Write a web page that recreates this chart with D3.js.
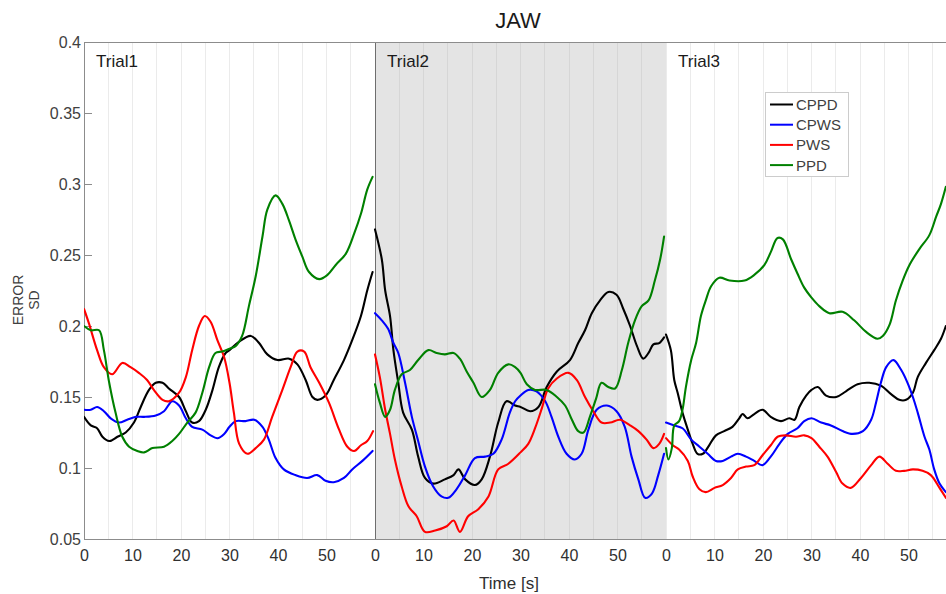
<!DOCTYPE html>
<html>
<head>
<meta charset="utf-8">
<script src="https://cdn.jsdelivr.net/npm/d3@7/dist/d3.min.js"></script>
<style>
  html, body { margin: 0; padding: 0; background: #fff; }
  svg { display: block; font-family: "Liberation Sans", Arial, sans-serif; }
</style>
</head>
<body>
<svg id="chart" width="946" height="594"></svg>
<script>
// ---- data: [time within trial (s), error SD] ----
const trials = ["Trial1", "Trial2", "Trial3"];
const trialLength = 60;
const timeTicks = [0, 10, 20, 30, 40, 50];
const yTicks = [0.05, 0.1, 0.15, 0.2, 0.25, 0.3, 0.35, 0.4];
const seriesNames = ["CPPD", "CPWS", "PWS", "PPD"];
const seriesColors = ["#000000", "#0000ff", "#ff0000", "#008000"];

const cppdTrial1 = [[0,0.136],[1.4,0.130],[2.7,0.128],[3.8,0.122],[5.2,0.119],[6.9,0.122],[8.6,0.125],[10.3,0.132],[11.7,0.143],[13.4,0.155],[14.8,0.160],[16.2,0.160],[17.5,0.156],[19.6,0.150],[21,0.140],[22.3,0.132],[23.7,0.133],[25.1,0.141],[26.5,0.155],[27.8,0.171],[29.2,0.181],[30,0.183],[32,0.189],[34.4,0.193],[36.1,0.188],[37.8,0.180],[39.9,0.176],[42.3,0.177],[44,0.173],[45.7,0.162],[47.1,0.150],[48.1,0.148],[49.8,0.151],[51.5,0.162],[53.6,0.176],[55.3,0.190],[57.1,0.207],[58.4,0.225],[59.5,0.238]];
const cpwsTrial1 = [[0,0.141],[1.4,0.141],[2.7,0.143],[4.1,0.140],[5.5,0.135],[7.2,0.132],[8.9,0.134],[10.7,0.136],[12.4,0.136],[14.8,0.137],[16.5,0.140],[18.2,0.147],[19.6,0.144],[21,0.135],[22.3,0.129],[24.4,0.127],[26.1,0.123],[27.5,0.121],[28.9,0.124],[30,0.129],[31.3,0.133],[33.3,0.133],[35.1,0.134],[36.8,0.129],[38.1,0.120],[39.5,0.107],[41.2,0.099],[43.6,0.095],[46,0.093],[48.1,0.095],[49.8,0.091],[51.5,0.090],[53.6,0.093],[55.3,0.099],[57.4,0.105],[59.5,0.112]];
const pwsTrial1 = [[0,0.212],[1,0.202],[2.7,0.183],[4.1,0.171],[5.8,0.166],[7.9,0.174],[9.6,0.171],[11.3,0.167],[13,0.162],[14.4,0.155],[16.2,0.148],[17.5,0.147],[19.6,0.153],[21,0.164],[22.3,0.183],[23.7,0.200],[24.9,0.207],[26.1,0.203],[27.5,0.190],[28.9,0.178],[30,0.160],[30.9,0.139],[32,0.117],[33.7,0.110],[35.4,0.114],[37.1,0.120],[38.8,0.136],[40.9,0.155],[42.6,0.171],[44,0.182],[45.4,0.182],[46.7,0.171],[48.5,0.160],[50.5,0.146],[52.6,0.127],[54.3,0.115],[55.7,0.112],[57.1,0.116],[58.4,0.119],[59.6,0.126]];
const ppdTrial1 = [[0,0.200],[1.4,0.197],[3.1,0.197],[4.1,0.183],[5.2,0.160],[6.5,0.139],[7.9,0.122],[9.3,0.115],[11,0.112],[12.4,0.111],[14.1,0.114],[16.5,0.115],[18.2,0.119],[19.6,0.124],[21.3,0.132],[23,0.139],[24.4,0.153],[25.8,0.171],[27.1,0.181],[28.5,0.182],[30,0.184],[31.3,0.186],[32.6,0.193],[34,0.214],[35.4,0.235],[36.8,0.263],[37.8,0.282],[39.5,0.292],[40.9,0.286],[42.3,0.274],[43.6,0.261],[45,0.249],[46.4,0.238],[48.5,0.233],[50.2,0.236],[51.9,0.243],[54,0.251],[55.7,0.265],[57.1,0.279],[58.4,0.296],[59.5,0.305]];

const cppdTrial2 = [[0,0.268],[1.4,0.247],[2.1,0.225],[3.1,0.207],[3.8,0.183],[4.8,0.160],[5.8,0.139],[7.6,0.127],[8.9,0.108],[10.3,0.093],[12,0.089],[14.4,0.092],[16.2,0.095],[17.2,0.099],[18.6,0.092],[20.6,0.088],[22,0.092],[23.7,0.108],[25.4,0.132],[27.1,0.147],[28.9,0.144],[30,0.143],[32,0.140],[33.7,0.143],[35.4,0.157],[37.5,0.168],[40.2,0.176],[41.9,0.188],[43.3,0.197],[44.7,0.209],[46.4,0.218],[48.1,0.224],[49.8,0.222],[51.2,0.212],[52.6,0.200],[54,0.186],[55.3,0.177],[56.4,0.181],[57.4,0.187],[58.6,0.188],[59.6,0.192]];
const cpwsTrial2 = [[0,0.209],[1.4,0.204],[2.7,0.198],[3.8,0.188],[4.8,0.181],[6.2,0.160],[7.6,0.136],[8.9,0.119],[10.3,0.101],[12,0.087],[13.7,0.080],[15.1,0.079],[16.8,0.085],[18.6,0.095],[20.6,0.107],[22.7,0.108],[24.4,0.110],[26.1,0.120],[27.8,0.139],[28.9,0.147],[30,0.151],[31.6,0.155],[33.3,0.154],[35.1,0.147],[36.4,0.136],[37.8,0.122],[39.5,0.110],[41.2,0.106],[42.6,0.110],[44,0.127],[45.7,0.141],[47.8,0.144],[49.8,0.140],[51.5,0.129],[52.9,0.108],[54.3,0.092],[55.7,0.079],[57.1,0.082],[58.4,0.095],[59.6,0.110]];
const pwsTrial2 = [[0,0.180],[1,0.164],[2.1,0.141],[3.1,0.124],[4.1,0.106],[5.5,0.087],[6.9,0.073],[8.6,0.066],[10.3,0.055],[12.4,0.056],[14.8,0.059],[16.2,0.063],[17.5,0.055],[19.2,0.066],[21.3,0.071],[23.4,0.080],[25.4,0.099],[27.5,0.103],[30,0.111],[31.6,0.117],[33,0.128],[34.4,0.142],[35.7,0.156],[37.5,0.163],[39.9,0.167],[41.6,0.162],[43.3,0.150],[45,0.140],[46.7,0.132],[48.5,0.132],[50.5,0.134],[52.6,0.130],[54.3,0.126],[56,0.120],[57.4,0.114],[58.6,0.117],[59.6,0.124]];
const ppdTrial2 = [[0,0.159],[1,0.146],[2.1,0.136],[3.1,0.141],[4.1,0.155],[5.5,0.166],[7.2,0.169],[8.9,0.176],[11,0.183],[12.7,0.181],[14.4,0.180],[16.2,0.181],[17.5,0.177],[18.9,0.168],[20.3,0.160],[22,0.150],[23.7,0.155],[25.4,0.167],[27.5,0.173],[28.9,0.171],[30,0.167],[31.3,0.159],[33,0.155],[35.4,0.155],[37.5,0.150],[39.2,0.144],[40.6,0.134],[41.9,0.126],[43,0.125],[44.3,0.136],[45.6,0.149],[46.7,0.160],[48.1,0.157],[49.5,0.156],[50.9,0.169],[52.2,0.188],[53.6,0.204],[55,0.214],[56.4,0.218],[57.7,0.232],[58.8,0.247],[59.6,0.263]];

const cppdTrial3 = [[0,0.194],[1,0.183],[1.7,0.162],[2.4,0.153],[3.4,0.139],[4.5,0.127],[5.5,0.117],[6.5,0.110],[7.6,0.110],[8.9,0.116],[10.3,0.123],[12,0.126],[13.7,0.129],[15.1,0.135],[15.8,0.138],[16.8,0.135],[18.2,0.138],[19.9,0.141],[21.6,0.136],[23.7,0.133],[25.4,0.135],[26.5,0.134],[27.5,0.143],[28.9,0.151],[30,0.155],[31.3,0.157],[33,0.151],[35.1,0.150],[37.1,0.154],[39.5,0.159],[41.9,0.160],[44.3,0.158],[46.4,0.152],[48.1,0.148],[49.5,0.148],[50.9,0.153],[51.9,0.164],[53.6,0.174],[55.3,0.183],[56.7,0.191],[57.7,0.200]];
const cpwsTrial3 = [[0,0.132],[1.7,0.130],[3.4,0.128],[5.2,0.120],[6.9,0.115],[8.6,0.110],[10.3,0.105],[11.7,0.105],[13.4,0.108],[14.8,0.110],[16.5,0.108],[18.2,0.105],[19.9,0.102],[21.6,0.108],[23.4,0.117],[25.1,0.124],[27.1,0.128],[28.5,0.133],[30,0.135],[32,0.132],[34,0.130],[36.4,0.126],[38.5,0.124],[40.6,0.126],[42.3,0.134],[43.3,0.146],[44.3,0.160],[45.4,0.171],[46.9,0.176],[48.5,0.169],[49.8,0.160],[50.9,0.150],[51.9,0.139],[53.3,0.122],[54.3,0.113],[55.3,0.099],[56.4,0.089],[57.7,0.083]];
const pwsTrial3 = [[0,0.121],[1.4,0.116],[2.7,0.113],[4.5,0.105],[5.5,0.094],[6.9,0.085],[8.2,0.083],[10,0.086],[11.7,0.088],[13.4,0.093],[14.8,0.099],[16.5,0.101],[18.2,0.102],[19.9,0.109],[21.6,0.116],[23,0.122],[24.7,0.123],[26.8,0.122],[28.5,0.123],[30,0.121],[31.6,0.115],[33.3,0.108],[35.1,0.097],[36.4,0.089],[38.1,0.086],[40.2,0.093],[42.3,0.102],[44,0.108],[45.7,0.103],[47.4,0.098],[49.1,0.098],[50.9,0.099],[52.9,0.098],[54.6,0.095],[56.4,0.086],[57.7,0.079]];
const ppdTrial3 = [[0,0.114],[0.5,0.106],[1.2,0.114],[1.7,0.130],[2.7,0.133],[3.4,0.141],[4.1,0.157],[5.2,0.176],[6.2,0.188],[7.2,0.207],[8.2,0.218],[9.3,0.228],[11,0.234],[13.1,0.232],[16.2,0.232],[18.2,0.236],[20.3,0.243],[21.6,0.252],[23,0.262],[24.1,0.261],[25.8,0.247],[27.1,0.237],[28.5,0.227],[30,0.220],[31.6,0.214],[33.7,0.209],[36.4,0.210],[38.8,0.204],[41.2,0.196],[43.6,0.191],[44.7,0.193],[46.1,0.201],[47.4,0.218],[48.8,0.232],[50.2,0.243],[52.2,0.254],[54.3,0.264],[55.7,0.277],[56.7,0.286],[57.7,0.298]];

// series -> one segment per trial
const seriesData = [
  [cppdTrial1, cppdTrial2, cppdTrial3],
  [cpwsTrial1, cpwsTrial2, cpwsTrial3],
  [pwsTrial1, pwsTrial2, pwsTrial3],
  [ppdTrial1, ppdTrial2, ppdTrial3]
];

// ---- layout ----
const svg = d3.select("#chart");
const plot = { left: 84, top: 42, width: 873, height: 497 };
const x = d3.scaleLinear().domain([0, trialLength * trials.length]).range([plot.left, plot.left + plot.width]);
const y = d3.scaleLinear().domain([0.05, 0.4]).range([plot.top + plot.height, plot.top]);
const bottom = plot.top + plot.height;
const right = plot.left + plot.width;
const fontFamily = "Liberation Sans, Arial, sans-serif";

// shaded middle trial
svg.append("rect")
  .attr("x", x(trialLength)).attr("y", plot.top)
  .attr("width", x(2 * trialLength) - x(trialLength))
  .attr("height", plot.height)
  .attr("fill", "#e4e4e4");

// vertical grid every 5 s
const gridTimes = d3.range(5, trialLength * trials.length, 5);
svg.append("g").selectAll("line")
  .data(gridTimes)
  .join("line")
  .attr("x1", d => x(d)).attr("x2", d => x(d))
  .attr("y1", plot.top).attr("y2", bottom)
  .attr("stroke", d => (d > trialLength && d < 2 * trialLength) ? "#d6d6d6" : "#ebebeb")
  .attr("stroke-width", 1)
  .attr("shape-rendering", "crispEdges");

// trial separator
svg.append("line")
  .attr("x1", x(trialLength)).attr("x2", x(trialLength))
  .attr("y1", plot.top).attr("y2", bottom)
  .attr("stroke", "#6e6e6e").attr("stroke-width", 1)
  .attr("shape-rendering", "crispEdges");

// frame
const frame = svg.append("g").attr("stroke", "#8c8c8c").attr("stroke-width", 1).attr("shape-rendering", "crispEdges");
frame.append("line").attr("x1", plot.left).attr("x2", right).attr("y1", plot.top).attr("y2", plot.top);
frame.append("line").attr("x1", plot.left).attr("x2", right).attr("y1", bottom).attr("y2", bottom);
frame.append("line").attr("x1", plot.left).attr("x2", plot.left).attr("y1", plot.top).attr("y2", bottom);

// y axis (ticks pointing inward)
const yAxis = d3.axisLeft(y).tickValues(yTicks).tickSize(-8).tickPadding(3)
  .tickFormat(d => String(+d.toFixed(2)));
const yg = svg.append("g").attr("transform", `translate(${plot.left},0)`).call(yAxis);
yg.select(".domain").remove();
yg.selectAll(".tick line").attr("stroke", "#8c8c8c");
yg.selectAll(".tick text").attr("fill", "#404040").attr("font-size", 16)
  .attr("font-family", fontFamily);

// x axis: time restarts at 0 for every trial
const xTickValues = [];
trials.forEach((_, i) => timeTicks.forEach(t => xTickValues.push(i * trialLength + t)));
const xAxis = d3.axisBottom(x).tickValues(xTickValues).tickSize(0).tickPadding(11)
  .tickFormat(d => String(d % trialLength));
const xg = svg.append("g").attr("transform", `translate(0,${bottom})`).call(xAxis);
xg.select(".domain").remove();
xg.selectAll(".tick text").attr("fill", "#303030").attr("font-size", 16)
  .attr("font-family", fontFamily);

// clip for curves
svg.append("clipPath").attr("id", "plotClip")
  .append("rect").attr("x", plot.left).attr("y", plot.top).attr("width", plot.width).attr("height", plot.height);

const line = d3.line()
  .x(d => x(d[0]))
  .y(d => y(d[1]))
  .curve(d3.curveCatmullRom.alpha(0.5));

const curves = svg.append("g").attr("clip-path", "url(#plotClip)");
seriesData.forEach((segments, si) => {
  segments.forEach((seg, ti) => {
    curves.append("path")
      .datum(seg.map(([t, v]) => [ti * trialLength + t, v]))
      .attr("d", line)
      .attr("fill", "none")
      .attr("stroke", seriesColors[si])
      .attr("stroke-width", 2.1)
      .attr("stroke-linejoin", "round")
      .attr("stroke-linecap", "round");
  });
});

// trial labels
svg.append("g").selectAll("text")
  .data(trials)
  .join("text")
  .attr("x", (d, i) => x(i * trialLength) + 12)
  .attr("y", 67)
  .attr("font-size", 17)
  .attr("fill", "#1a1a1a")
  .text(d => d);

// legend
const legend = svg.append("g").attr("transform", "translate(765,92)");
legend.append("rect").attr("width", 83).attr("height", 84)
  .attr("fill", "#ffffff").attr("stroke", "#cccccc").attr("stroke-width", 1)
  .attr("shape-rendering", "crispEdges");
seriesNames.forEach((name, i) => {
  const row = legend.append("g").attr("transform", `translate(0,${12.5 + i * 20.2})`);
  row.append("line").attr("x1", 5).attr("x2", 28).attr("y1", 0).attr("y2", 0)
    .attr("stroke", seriesColors[i]).attr("stroke-width", 2);
  row.append("text").attr("x", 31).attr("y", 5.5).attr("font-size", 15)
    .attr("fill", "#404040").text(name);
});

// titles
svg.append("text").attr("x", 518).attr("y", 28).attr("text-anchor", "middle")
  .attr("font-size", 22).attr("fill", "#1a1a1a").text("JAW");
svg.append("text").attr("x", 509).attr("y", 589).attr("text-anchor", "middle")
  .attr("font-size", 17).attr("fill", "#303030").text("Time [s]");
const yl = svg.append("text").attr("transform", "translate(23,300) rotate(-90)")
  .attr("text-anchor", "middle").attr("font-size", 14).attr("fill", "#404040");
yl.append("tspan").attr("x", 0).attr("dy", 0).text("ERROR");
yl.append("tspan").attr("x", 0).attr("dy", 16).text("SD");
</script>
</body>
</html>
